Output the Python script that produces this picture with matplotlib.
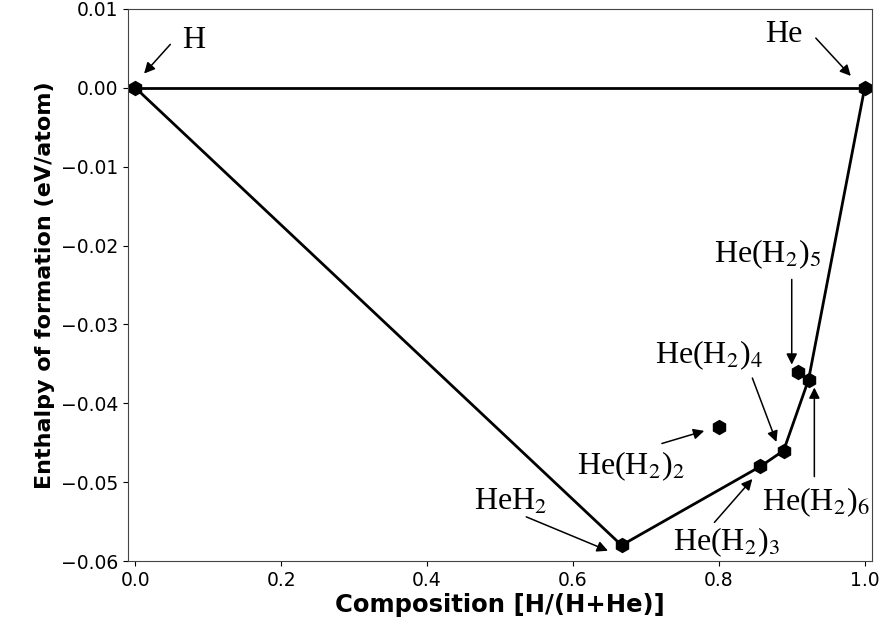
import matplotlib.pyplot as plt

plt.rcParams['mathtext.fontset'] = 'stix'

# compositions x = H/(H+He) and formation enthalpies (eV/atom)
names = ['H', 'He', 'HeH$_2$', 'He(H$_2$)$_2$', 'He(H$_2$)$_3$',
         'He(H$_2$)$_4$', 'He(H$_2$)$_5$', 'He(H$_2$)$_6$']
comp = [0.0, 1.0, 2 / 3, 4 / 5, 6 / 7, 8 / 9, 10 / 11, 12 / 13]
enth = [0.0, 0.0, -0.058, -0.043, -0.048, -0.046, -0.036, -0.037]

# indices of the convex hull vertices, in order
hull = [0, 2, 4, 5, 7, 1]

# label anchors (left, baseline) and arrow tail/tip, in data coords
label_pos = [(0.0645, 0.0051), (0.863, 0.0058), (0.465, -0.0535), (0.606, -0.0490),
             (0.737, -0.0586), (0.712, -0.0349), (0.794, -0.0221), (0.859, -0.0535)]
arrow_tail = [(0.048, 0.0055), (0.933, 0.0063), (0.536, -0.0544), (0.722, -0.0451),
              (0.794, -0.0551), (0.846, -0.0368), (0.900, -0.0243), (0.931, -0.0493)]
arrow_tip = [(0.012, 0.0018), (0.981, 0.0015), (0.648, -0.0587), (0.780, -0.0435),
             (0.846, -0.0496), (0.879, -0.0449), (0.900, -0.0351), (0.931, -0.0380)]

fig, ax = plt.subplots(figsize=(8.83, 6.35), dpi=100)
fig.subplots_adjust(left=0.145, right=0.9875, bottom=0.1165, top=0.986)

ax.plot([comp[0], comp[1]], [enth[0], enth[1]], color='black', lw=2)
ax.plot([comp[i] for i in hull], [enth[i] for i in hull], color='black', lw=2)
ax.plot(comp, enth, 'h', color='black', markersize=10, linestyle='none')

for i in range(len(names)):
    ax.annotate('', xy=arrow_tip[i], xytext=arrow_tail[i],
                arrowprops=dict(arrowstyle='-|>', color='black', lw=1.1,
                                mutation_scale=16, shrinkA=0, shrinkB=0))
    ax.text(label_pos[i][0], label_pos[i][1], names[i], fontsize=23,
            family='Liberation Serif', ha='left', va='baseline')

ax.set_xlim(-0.01, 1.01)
ax.set_ylim(-0.06, 0.01)
ax.tick_params(labelsize=13.5)
ax.set_xlabel('Composition [H/(H+He)]', fontsize=17.5, fontweight='bold', labelpad=2)
ax.set_ylabel('Enthalpy of formation (eV/atom)', fontsize=16, fontweight='bold')
for s in ax.spines.values():
    s.set_color('#444444')

plt.savefig('out.png')
